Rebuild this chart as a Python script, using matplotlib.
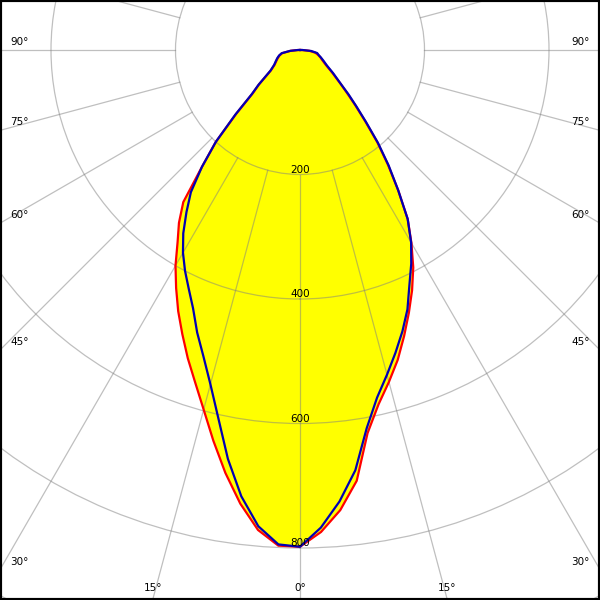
import numpy as np
import matplotlib
matplotlib.use("Agg")
import matplotlib.pyplot as plt
from matplotlib.patches import Rectangle

# ---- data (gamma angle in degrees, luminous intensity in cd) ----
gamma = [0, 2.5, 5, 7.5, 10, 12.5, 15, 17.5, 20, 22.5, 25, 27.5, 30, 32.5, 35,
         37.5, 40, 42.5, 45, 47.5, 50, 55, 60, 65, 70, 75, 80, 85, 90]
red_left = [798, 797, 774, 735, 690, 643, 598, 560, 527, 494, 463, 431, 400, 366, 339,
            308, 245, 200, 145, 103, 86, 57, 47, 42, 38, 34, 29, 15, 3]
red_right = [798, 775, 742, 698, 625, 583, 552, 522, 489, 457, 426, 394, 358, 322, 275,
             232, 193, 155, 126, 103, 86, 63, 48, 40, 35, 30, 25, 15, 3]
blue_left = [798, 795, 768, 723, 667, 606, 556, 516, 483, 449, 423, 400, 376, 349, 318,
             288, 245, 200, 147, 105, 87, 58, 48, 43, 39, 35, 30, 16, 3]
blue_right = [798, 768, 728, 681, 617, 572, 540, 510, 481, 451, 416, 387, 357, 322, 275,
              234, 195, 157, 128, 106, 87, 65, 50, 42, 36, 31, 28, 18, 4]

ring_values = [200, 400, 600, 800, 1000]
ring_labels = ["200", "400", "600", "800"]
spoke_angles = list(range(0, 360, 15))
angle_labels = [90, 75, 60, 45, 30]
bottom_labels = [-15, 0, 15]

# ---- layout ----
W = H = 600
cx, cy = 300, 50          # pole position in pixels (from top-left)
scale = 0.6225            # pixels per cd
rmax = 1100

fig = plt.figure(figsize=(6, 6), dpi=100)
fig.patch.set_facecolor("white")
R = rmax * scale
ax = fig.add_axes([(cx - R) / W, ((H - cy) - R) / H, 2 * R / W, 2 * R / H],
                  projection="polar")
ax.set_theta_zero_location("S")
ax.set_theta_direction(1)
ax.set_ylim(0, rmax)
ax.set_facecolor("none")
ax.spines["polar"].set_visible(False)
ax.set_xticks([])
ax.set_rgrids(ring_values, labels=[""] * len(ring_values))
ax.tick_params(length=0)
ax.set_axisbelow("line")
grid_kw = dict(color="#808080", alpha=0.5, lw=0.9)
ax.yaxis.grid(True, **grid_kw)
ax.xaxis.grid(False)

def curve(left, right):
    g = np.array(gamma, dtype=float)
    th = np.concatenate([-g[::-1], g[1:]])
    r = np.concatenate([np.array(left, float)[::-1], np.array(right, float)[1:]])
    th = np.concatenate([[-90.0], th, [90.0]])
    r = np.concatenate([[0.0], r, [0.0]])
    return np.deg2rad(th), r

th_r, r_r = curve(red_left, red_right)
th_b, r_b = curve(blue_left, blue_right)

ax.fill(th_r, r_r, color="#FFFF00", lw=0, zorder=1)
ax.fill(th_b, r_b, color="#FFFF00", lw=0, zorder=1)

# radial spokes from the 200 cd ring outward
for a in spoke_angles:
    t = np.deg2rad(a)
    ax.plot([t, t], [200, rmax], zorder=1.5, **grid_kw)

ax.plot(th_r, r_r, color="#FF0000", lw=1.6, zorder=3, solid_joinstyle="round")
ax.plot(th_b, r_b, color="#0000B4", lw=1.6, zorder=4, solid_joinstyle="round")

# ring labels
for v, lab in zip(ring_values, ring_labels):
    ax.text(0, v, lab, ha="center", va="bottom", fontsize=7.5, color="black",
            zorder=5)

# angle labels at the frame
for a in angle_labels:
    y_int = cy + cx / np.tan(np.deg2rad(a)) if a != 90 else cy
    ypix = y_int - 8
    fig.text(10 / W, 1 - ypix / H, f"{a}°", ha="left", va="center", fontsize=7.5)
    fig.text(590 / W, 1 - ypix / H, f"{a}°", ha="right", va="center", fontsize=7.5)
for a in bottom_labels:
    x_int = cx + (H - cy) * np.tan(np.deg2rad(a))
    fig.text(x_int / W, 1 - 588 / H, f"{abs(a)}°", ha="center", va="center",
             fontsize=7.5)

fig.add_artist(Rectangle((0, 0), 1, 1, transform=fig.transFigure, fill=False,
                         edgecolor="black", lw=3, zorder=10))

fig.savefig("out.png", dpi=100)
